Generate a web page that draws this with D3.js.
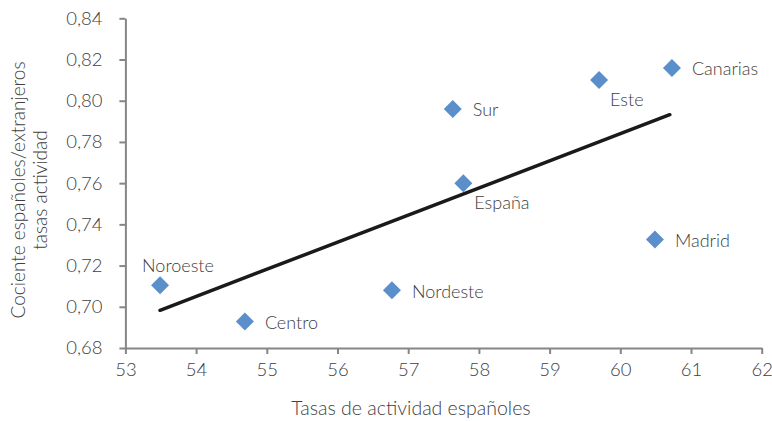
<!DOCTYPE html>
<html><head><meta charset="utf-8">
<script src="https://cdn.jsdelivr.net/npm/d3@7"></script>
<style>
body{margin:0;background:#fff;}
text{font-family:Lato,"Open Sans",sans-serif;font-weight:300;fill:#404040;}
</style></head>
<body><svg id="c" width="772" height="421"></svg>
<script>
const regions = ["Noroeste","Centro","Nordeste","España","Sur","Este","Canarias","Madrid"];
const tasasEsp = [53.49, 54.69, 56.77, 57.78, 57.63, 59.70, 60.73, 60.49];
const cociente = [0.7104, 0.6929, 0.708, 0.760, 0.796, 0.810, 0.8159, 0.7326];
const labelPos = ["above","right","right","below","right","below","right","right"];
const trendX = [53.49, 60.70];
const trendY = [0.6983, 0.7932];
const xTicks = [53,54,55,56,57,58,59,60,61,62];
const yTicks = [0.68,0.70,0.72,0.74,0.76,0.78,0.80,0.82,0.84];

const svg = d3.select("#c");
const x = d3.scaleLinear().domain([53,62]).range([125.4,761.7]);
const y = d3.scaleLinear().domain([0.68,0.84]).range([348,18.3]);
const fmt = d => d.toFixed(2).replace(".",",");

const xa = svg.append("g").attr("transform","translate(0,348)")
  .call(d3.axisBottom(x).tickValues(xTicks).tickSize(6).tickSizeOuter(0).tickPadding(9).tickFormat(d=>d));
const ya = svg.append("g").attr("transform","translate(125.4,0)")
  .call(d3.axisLeft(y).tickValues(yTicks).tickSize(6).tickSizeOuter(0).tickPadding(17).tickFormat(fmt));
[xa,ya].forEach(a=>{
  a.selectAll("path,line").attr("stroke","#868686").attr("stroke-width",2);
  a.selectAll("text").attr("font-size",18.5).attr("fill","#404040").style("font-family","Lato,sans-serif").style("font-weight",300);
});

svg.append("line")
  .attr("x1",x(trendX[0])).attr("y1",y(trendY[0]))
  .attr("x2",x(trendX[1])).attr("y2",y(trendY[1]))
  .attr("stroke","#1a1a1a").attr("stroke-width",3.5).attr("stroke-linecap","round");

const data = regions.map((r,i)=>({r, x:tasasEsp[i], y:cociente[i], p:labelPos[i]}));
svg.append("g").selectAll("path").data(data).enter().append("path")
  .attr("d","M0,-9L9,0L0,9L-9,0Z")
  .attr("transform",d=>`translate(${x(d.x)},${y(d.y)})`)
  .attr("fill","#5B8FCC");

const offY = {above:-20, below:20, right:1};
svg.append("g").selectAll("text").data(data).enter().append("text")
  .attr("x",d=> d.p==="above" ? x(d.x)-18 : d.p==="below" ? x(d.x)+11 : x(d.x)+20)
  .attr("y",d=> y(d.y)+offY[d.p])
  .attr("dy","0.35em")
  .attr("font-size",18)
  .text(d=>d.r);

svg.append("text").attr("x",411).attr("y",415).attr("text-anchor","middle").attr("font-size",19.5)
  .text("Tasas de actividad españoles");
svg.append("g").attr("transform","translate(0,190) rotate(-90)")
  .selectAll("text").data(["Cociente españoles/extranjeros","tasas actividad"]).enter().append("text")
  .attr("x",0).attr("y",(d,i)=>25+i*22).attr("text-anchor","middle").attr("font-size",19).text(d=>d);
</script></body></html>
